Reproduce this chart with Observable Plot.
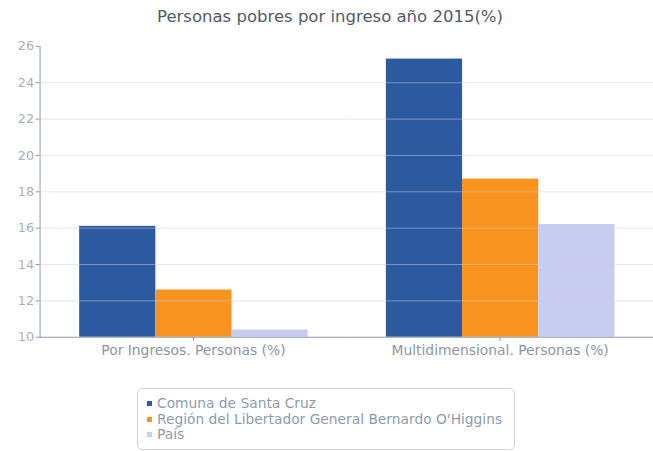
<!DOCTYPE html>
<html>
<head>
<meta charset="utf-8">
<script src="https://cdn.jsdelivr.net/npm/d3@7"></script>
<script src="https://cdn.jsdelivr.net/npm/@observablehq/plot@0.6"></script>
<style>
  html, body { margin: 0; padding: 0; background: #fff; overflow: hidden; width: 653px; height: 451px; }
  #title { position: absolute; left: 0; top: 7px; width: 660px; text-align: center; font-family: "DejaVu Sans", sans-serif; font-size: 16.5px; color: #545a68; }
  #chart { position: absolute; left: 0; top: 34px; }
  #legend { position: absolute; left: 137px; top: 388px; width: 378px; height: 62px; border: 1px solid #cfd3dc; border-radius: 5px; box-sizing: border-box; font-family: "DejaVu Sans", sans-serif; font-size: 13.8px; color: #8f9ab0; padding-top: 7px; }
  .item { height: 15.5px; line-height: 15.5px; white-space: nowrap; }
  .sw { display: inline-block; width: 5px; height: 5px; margin: 0 5px 1px 9px; vertical-align: middle; }
</style>
</head>
<body>
<div id="title">Personas pobres por ingreso año 2015(%)</div>
<div id="chart"></div>
<div id="legend"></div>
<script>
const categories = ["Por Ingresos. Personas (%)", "Multidimensional. Personas (%)"];
const series = ["Comuna de Santa Cruz", "Región del Libertador General Bernardo O'Higgins", "País"];
const santaCruz = [16.1, 25.3];
const region = [12.6, 18.7];
const pais = [10.4, 16.2];
const yTicks = [10, 12, 14, 16, 18, 20, 22, 24, 26];
const colors = ["#2c5aa0", "#f7931e", "#c8cdf0"];

const seriesValues = [santaCruz, region, pais];
const data = [];
categories.forEach((c, i) => {
  series.forEach((s, j) => data.push({category: c, series: s, value: seriesValues[j][i]}));
});

const chart = Plot.plot({
  width: 660,
  height: 330,
  marginLeft: 40,
  marginRight: 0,
  marginTop: 12,
  marginBottom: 24,
  style: {fontFamily: "DejaVu Sans, sans-serif", fontSize: "13px", color: "#9aa3b5", background: "transparent"},
  fx: {domain: categories, padding: 0, label: null},
  x: {domain: series, paddingInner: 0, paddingOuter: 0.51, axis: null},
  y: {domain: [10, 26], ticks: yTicks, label: null},
  color: {domain: series, range: colors},
  marks: [
    Plot.barY(data, {fx: "category", x: "series", y1: 10, y2: "value", fill: "series"}),
    Plot.ruleY(yTicks.slice(1, -1), {stroke: "#d8c8dc", strokeOpacity: 0.5}),
    Plot.axisY({ticks: yTicks, tickSize: 4, tickPadding: 2, stroke: "#8d9ab0", fill: "#a8b0c0", label: null, fontSize: 13}),
    Plot.ruleY([10], {stroke: "#8d9ab0"}),
    Plot.axisFx({anchor: "bottom", tickSize: 4, tickPadding: 4, fill: "#8d95a8", stroke: "#8d9ab0", label: null, fontSize: 14}),
    Plot.frame({anchor: "left", stroke: "#8d9ab0", facet: "super"})
  ]
});
document.getElementById("chart").appendChild(chart);

const legend = document.getElementById("legend");
series.forEach((s, i) => {
  const d = document.createElement("div");
  d.className = "item";
  d.innerHTML = `<span class="sw" style="background:${colors[i]}"></span>`;
  d.appendChild(document.createTextNode(s));
  legend.appendChild(d);
});
</script>
</body>
</html>
